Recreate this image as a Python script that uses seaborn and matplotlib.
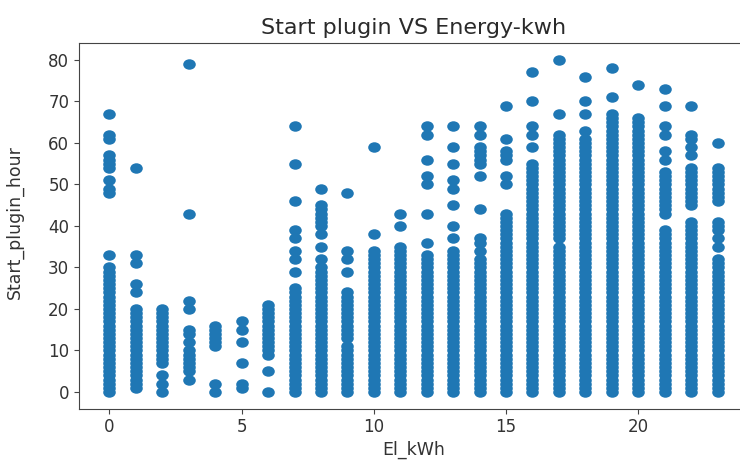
import matplotlib
matplotlib.use("Agg")
import matplotlib.pyplot as plt
from matplotlib.path import Path
import numpy as np
import pandas as pd
import seaborn as sns

el_kwh = [0, 1, 2, 3, 4, 5, 6, 7, 8, 9, 10, 11, 12, 13, 14, 15, 16, 17, 18, 19, 20, 21, 22, 23]

h0 = [0, 1, 2, 3, 4, 5, 6, 7, 8, 9, 10, 11, 12, 13, 14, 15, 16, 17, 18, 19, 20, 21, 22, 23, 24, 25, 26, 27, 28, 29, 30,
      33, 48, 49, 51, 54, 55, 56, 57, 61, 62, 67]
h1 = [1, 2, 3, 4, 5, 6, 7, 8, 9, 10, 11, 12, 13, 14, 15, 16, 17, 18, 19, 20, 24, 26, 31, 33, 54]
h2 = [0, 2, 4, 7, 8, 9, 10, 11, 12, 13, 14, 15, 16, 17, 18, 19, 20]
h3 = [3, 5, 6, 7, 8, 9, 10, 12, 14, 15, 20, 22, 43, 79]
h4 = [0, 2, 11, 12, 13, 14, 15, 16]
h5 = [1, 2, 7, 12, 15, 17]
h6 = [0, 5, 9, 10, 11, 12, 13, 14, 15, 16, 17, 18, 19, 20, 21]
h7 = [0, 1, 2, 3, 4, 5, 6, 7, 8, 9, 10, 11, 12, 13, 14, 15, 16, 17, 18, 19, 20, 21, 22, 23, 24, 25,
      29, 32, 34, 37, 39, 46, 55, 64]
h8 = [0, 1, 2, 3, 4, 5, 6, 7, 8, 9, 10, 11, 12, 13, 14, 15, 16, 17, 18, 19, 20, 21, 22, 23, 24, 25, 26, 27, 28, 29, 30,
      32, 35, 38, 40, 41, 42, 43, 44, 45, 49]
h9 = [0, 1, 2, 3, 4, 5, 6, 7, 8, 9, 10, 11, 13, 14, 15, 16, 17, 18, 19, 20, 21, 22, 23, 24,
      29, 32, 34, 48]
h10 = [0, 1, 2, 3, 4, 5, 6, 7, 8, 9, 10, 11, 12, 13, 14, 15, 16, 17, 18, 19, 20, 21, 22, 23, 24, 25, 26, 27, 28, 29,
       30, 31, 32, 33, 34, 38, 59]
h11 = [0, 1, 2, 3, 4, 5, 6, 7, 8, 9, 10, 11, 12, 13, 14, 15, 16, 17, 18, 19, 20, 21, 22, 23, 24, 25, 26, 27, 28, 29,
       30, 31, 32, 33, 34, 35, 40, 43]
h12 = [0, 1, 2, 3, 4, 5, 6, 7, 8, 9, 10, 11, 12, 13, 14, 15, 16, 17, 18, 19, 20, 21, 22, 23, 24, 25, 26, 27, 28, 29,
       30, 31, 32, 33, 36, 43, 50, 52, 56, 62, 64]
h13 = [0, 1, 2, 3, 4, 5, 6, 7, 8, 9, 10, 11, 12, 13, 14, 15, 16, 17, 18, 19, 20, 21, 22, 23, 24, 25, 26, 27, 28, 29,
       30, 31, 32, 33, 34, 37, 40, 45, 49, 51, 55, 59, 64]
h14 = [0, 1, 2, 3, 4, 5, 6, 7, 8, 9, 10, 11, 12, 13, 14, 15, 16, 17, 18, 19, 20, 21, 22, 23, 24, 25, 26, 27, 28, 29,
       30, 31, 32, 34, 36, 37, 44, 52, 55, 56, 57, 58, 59, 62, 64]
h15 = [0, 1, 2, 3, 4, 5, 6, 7, 8, 9, 10, 11, 12, 13, 14, 15, 16, 17, 18, 19, 20, 21, 22, 23, 24, 25, 26, 27, 28, 29,
       30, 31, 32, 33, 34, 35, 36, 37, 38, 39, 40, 41, 42, 43, 50, 52, 56, 57, 58, 61, 69]
h16 = [0, 1, 2, 3, 4, 5, 6, 7, 8, 9, 10, 11, 12, 13, 14, 15, 16, 17, 18, 19, 20, 21, 22, 23, 24, 25, 26, 27, 28, 29,
       30, 31, 32, 33, 34, 35, 36, 37, 38, 39, 40, 41, 42, 43, 44, 45, 46, 47, 48, 49, 50, 51, 52, 53, 54, 55,
       59, 62, 64, 70, 77]
h17 = [0, 1, 2, 3, 4, 5, 6, 7, 8, 9, 10, 11, 12, 13, 14, 15, 16, 17, 18, 19, 20, 21, 22, 23, 24, 25, 26, 27, 28, 29,
       30, 31, 32, 33, 34, 35, 37, 38, 39, 40, 41, 42, 43, 44, 45, 46, 47, 48, 49, 50, 51, 52, 53, 54, 55, 56, 57,
       58, 59, 60, 61, 62, 67, 80]
h18 = [0, 1, 2, 3, 4, 5, 6, 7, 8, 9, 10, 11, 12, 13, 14, 15, 16, 17, 18, 19, 20, 21, 22, 23, 24, 25, 26, 27, 28, 29,
       30, 31, 32, 33, 34, 35, 36, 37, 38, 39, 40, 41, 42, 43, 44, 45, 46, 47, 48, 49, 50, 51, 52, 53, 54, 55, 56,
       57, 58, 59, 60, 61, 63, 67, 70, 76]
h19 = [0, 1, 2, 3, 4, 5, 6, 7, 8, 9, 10, 11, 12, 13, 14, 15, 16, 17, 18, 19, 20, 21, 22, 23, 24, 25, 26, 27, 28, 29,
       30, 31, 32, 33, 34, 35, 36, 37, 38, 39, 40, 41, 42, 43, 44, 45, 46, 47, 48, 49, 50, 51, 52, 53, 54, 55, 56,
       57, 58, 59, 60, 61, 62, 63, 64, 65, 66, 67, 71, 78]
h20 = [0, 1, 2, 3, 4, 5, 6, 7, 8, 9, 10, 11, 12, 13, 14, 15, 16, 17, 18, 19, 20, 21, 22, 23, 24, 25, 26, 27, 28, 29,
       30, 31, 32, 33, 34, 35, 36, 37, 38, 39, 40, 41, 42, 43, 44, 45, 46, 47, 48, 49, 50, 51, 52, 53, 54, 55, 56,
       57, 58, 59, 60, 61, 62, 63, 64, 65, 66, 74]
h21 = [0, 1, 2, 3, 4, 5, 6, 7, 8, 9, 10, 11, 12, 13, 14, 15, 16, 17, 18, 19, 20, 21, 22, 23, 24, 25, 26, 27, 28, 29,
       30, 31, 32, 33, 34, 35, 36, 37, 38, 39, 43, 44, 45, 46, 47, 48, 49, 50, 51, 52, 53,
       56, 58, 62, 64, 69, 73]
h22 = [0, 1, 2, 3, 4, 5, 6, 7, 8, 9, 10, 11, 12, 13, 14, 15, 16, 17, 18, 19, 20, 21, 22, 23, 24, 25, 26, 27, 28, 29,
       30, 31, 32, 33, 34, 35, 36, 37, 38, 39, 40, 41, 45, 46, 47, 48, 49, 50, 51, 52, 53, 54,
       57, 59, 61, 62, 69]
h23 = [0, 1, 2, 3, 4, 5, 6, 7, 8, 9, 10, 11, 12, 13, 14, 15, 16, 17, 18, 19, 20, 21, 22, 23, 24, 25, 26, 27, 28, 29,
       30, 31, 32, 35, 37, 39, 40, 41, 46, 47, 48, 49, 50, 51, 52, 53, 54, 60]

hours = [h0, h1, h2, h3, h4, h5, h6, h7, h8, h9, h10, h11, h12, h13, h14, h15, h16, h17, h18, h19, h20, h21, h22, h23]

rows_x, rows_y = [], []
for k, hs in zip(el_kwh, hours):
    rows_x.extend([k] * len(hs))
    rows_y.extend(hs)
df = pd.DataFrame({"El_kWh": rows_x, "Start_plugin_hour": rows_y})

# slightly wide ellipse marker (reference image is stretched horizontally)
circ = Path.unit_circle()
ell = Path(circ.vertices * np.array([1.2, 1.0]), circ.codes)

fig = plt.figure(figsize=(7.4, 4.63), dpi=100)
ax = fig.add_axes([0.1068, 0.1175, 0.904, 0.7888])
sns.scatterplot(data=df, x="El_kWh", y="Start_plugin_hour", ax=ax,
                marker=ell, s=82, color="#1f77b4", linewidth=0)
ax.set_xticks([0, 5, 10, 15, 20])
ax.set_yticks([0, 10, 20, 30, 40, 50, 60, 70, 80])
ax.tick_params(labelsize=12, colors="#444444", labelcolor="#333333")
for sp in ax.spines.values():
    sp.set_color("#444444")
ax.set_title("Start plugin VS Energy-kwh", fontsize=16, color="#2a2a2a", pad=7)
ax.set_xlabel("El_kWh", fontsize=12.5, color="#333333", labelpad=3)
ax.set_ylabel("Start_plugin_hour", fontsize=12.5, color="#333333")
ax.yaxis.set_label_coords(-0.082, 0.51)
fig.savefig("out.png", dpi=100)
